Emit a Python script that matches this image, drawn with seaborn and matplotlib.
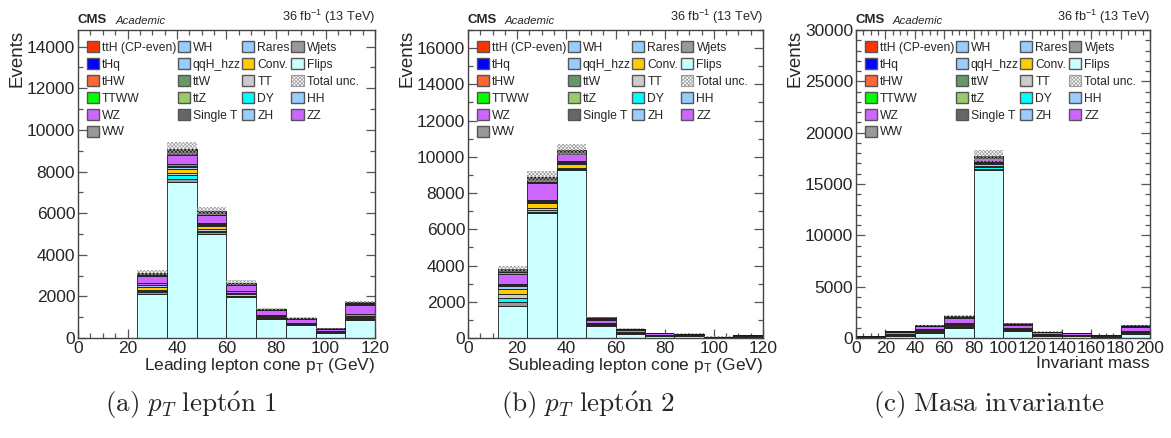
import numpy as np
import pandas as pd
import matplotlib
matplotlib.use("Agg")
import matplotlib.pyplot as plt
import seaborn as sns
from matplotlib.patches import Patch
from matplotlib.ticker import MultipleLocator

# processes, bottom of the stack first
stack_order = ["Flips", "Wjets", "DY", "TT", "Conv.", "Rares", "WH", "ZH", "HH",
               "qqH_hzz", "ZZ", "WZ", "WW", "Single T", "ttZ", "ttW", "TTWW",
               "tHW", "tHq", "ttH (CP-even)"]

proc_colors = {
    "ttH (CP-even)": "#ff3300", "tHq": "#0000ff", "tHW": "#ff6633", "TTWW": "#00ff00",
    "WZ": "#cc66ff", "WW": "#999999", "WH": "#99ccff", "qqH_hzz": "#99ccff",
    "ttW": "#669966", "ttZ": "#99cc66", "Single T": "#666666", "Rares": "#99ccff",
    "Conv.": "#ffcc00", "TT": "#cccccc", "DY": "#00ffff", "ZH": "#99ccff",
    "Wjets": "#999999", "Flips": "#ccffff", "HH": "#99ccff", "ZZ": "#cc66ff",
}

legend_order = ["ttH (CP-even)", "tHq", "tHW", "TTWW", "WZ", "WW",
                "WH", "qqH_hzz", "ttW", "ttZ", "Single T",
                "Rares", "Conv.", "TT", "DY", "ZH",
                "Wjets", "Flips", "Total unc.", "HH", "ZZ"]

# ---- leading lepton cone pT, 10 bins of 12 GeV ----
lead_edges = [0, 12, 24, 36, 48, 60, 72, 84, 96, 108, 120]
lead_small = [0, 0, 6, 12, 10, 4, 2, 1, 1, 4]
lead_yields = {
    "Flips":    [0, 0, 2110, 7480, 5000, 1950, 920, 620, 260, 850],
    "Wjets":    [0, 0, 80, 150, 80, 40, 30, 20, 10, 50],
    "DY":       [0, 0, 50, 200, 80, 20, 10, 5, 5, 15],
    "TT":       [0, 0, 80, 100, 80, 30, 20, 15, 10, 40],
    "Conv.":    [0, 0, 150, 200, 120, 80, 50, 30, 15, 60],
    "Rares":    [0, 0, 60, 100, 60, 40, 30, 20, 10, 50],
    "ZZ":       [0, 0, 80, 80, 80, 60, 40, 30, 15, 70],
    "WZ":       [0, 0, 350, 450, 350, 300, 220, 160, 100, 420],
    "WW":       [0, 0, 40, 50, 40, 40, 30, 20, 10, 40],
    "Single T": [0, 0, 50, 100, 60, 30, 20, 10, 5, 20],
    "ttZ":      [0, 0, 20, 40, 30, 20, 10, 5, 5, 40],
    "ttW":      [0, 0, 20, 40, 30, 20, 10, 5, 5, 40],
}
lead_unc = [0, 0, 120, 320, 210, 100, 55, 40, 25, 70]

# ---- subleading lepton cone pT ----
sub_edges = [0, 12, 24, 36, 48, 60, 72, 84, 96, 108, 120]
sub_small = [0, 6, 12, 12, 4, 2, 1, 1, 0, 1]
sub_yields = {
    "Flips":    [0, 1750, 6900, 9250, 650, 230, 120, 110, 40, 80],
    "Wjets":    [0, 250, 60, 40, 40, 25, 15, 10, 4, 8],
    "DY":       [0, 200, 100, 60, 10, 5, 3, 2, 1, 2],
    "TT":       [0, 250, 100, 60, 20, 10, 5, 5, 2, 4],
    "Conv.":    [0, 280, 270, 170, 20, 10, 5, 5, 2, 4],
    "Rares":    [0, 150, 60, 80, 20, 15, 10, 8, 3, 6],
    "ZZ":       [0, 100, 100, 80, 40, 25, 15, 12, 4, 10],
    "WZ":       [0, 550, 900, 350, 200, 140, 80, 60, 18, 40],
    "WW":       [0, 80, 60, 40, 50, 20, 10, 8, 3, 6],
    "Single T": [0, 100, 200, 100, 30, 10, 5, 4, 1, 3],
    "ttZ":      [0, 30, 20, 20, 10, 5, 5, 3, 1, 4],
    "ttW":      [0, 30, 20, 20, 10, 5, 5, 3, 1, 3],
}
sub_unc = [0, 130, 300, 350, 45, 25, 15, 12, 6, 10]

# ---- invariant mass, 10 bins of 20 ----
mass_edges = [0, 20, 40, 60, 80, 100, 120, 140, 160, 180, 200]
mass_small = [1, 4, 6, 10, 15, 8, 4, 3, 2, 6]
mass_yields = {
    "Flips":    [10, 150, 450, 1000, 16350, 700, 220, 200, 130, 420],
    "Wjets":    [20, 50, 60, 80, 100, 60, 30, 25, 15, 60],
    "DY":       [5, 15, 40, 40, 250, 20, 5, 5, 3, 10],
    "TT":       [10, 30, 60, 60, 80, 30, 15, 10, 5, 30],
    "Conv.":    [10, 40, 120, 120, 180, 30, 15, 10, 5, 30],
    "Rares":    [10, 30, 40, 60, 80, 40, 25, 20, 12, 40],
    "ZZ":       [15, 50, 60, 80, 100, 60, 30, 25, 15, 60],
    "WZ":       [40, 200, 280, 500, 300, 300, 180, 140, 80, 380],
    "WW":       [10, 30, 30, 60, 60, 50, 20, 20, 10, 50],
    "Single T": [10, 30, 20, 50, 60, 40, 15, 10, 5, 30],
    "ttZ":      [5, 10, 10, 20, 20, 10, 10, 10, 5, 40],
    "ttW":      [5, 10, 10, 20, 20, 10, 5, 5, 5, 30],
}
mass_unc = [10, 40, 60, 90, 550, 60, 30, 25, 15, 50]

x_labels = ["Leading lepton cone p$_\\mathrm{T}$ (GeV)",
            "Subleading lepton cone p$_\\mathrm{T}$ (GeV)",
            "Invariant mass"]
captions = [r"$\mathrm{(a)}\ p_T\ \mathrm{lept\acute{o}n\ 1}$",
            r"$\mathrm{(b)}\ p_T\ \mathrm{lept\acute{o}n\ 2}$",
            r"$\mathrm{(c)\ Masa\ invariante}$"]
y_tops = [14800, 17000, 30000]
y_majors = [2000, 2000, 5000]


sns.set_style("ticks")
plt.rcParams["font.family"] = ["Liberation Sans", "DejaVu Sans"]
plt.rcParams["mathtext.fontset"] = "custom"
plt.rcParams["mathtext.rm"] = "Liberation Sans"
plt.rcParams["mathtext.it"] = "Liberation Sans:italic"
plt.rcParams["hatch.color"] = "#999999"
plt.rcParams["hatch.linewidth"] = 0.5

UNC_HATCH = "xxxxxxxxx"


def long_table(edges, yields, small):
    edges = np.asarray(edges, dtype=float)
    centers = 0.5 * (edges[:-1] + edges[1:])
    rows = []
    for proc in stack_order:
        vals = yields.get(proc, small)
        if proc == "ttH (CP-even)":
            vals = [2 * v for v in small]
        for c, v in zip(centers, vals):
            rows.append((c, proc, v))
    return pd.DataFrame(rows, columns=["x", "process", "w"])


def draw_panel(ax, edges, yields, small, unc, xlabel, ytop, ymajor):
    df = long_table(edges, yields, small)
    # seaborn puts the first hue level on top of the stack
    sns.histplot(data=df, x="x", weights="w", hue="process", hue_order=stack_order[::-1],
                 multiple="stack", bins=edges, palette=proc_colors, alpha=1,
                 edgecolor="#1a1a1a", linewidth=0.6, legend=False, ax=ax)

    # total uncertainty band
    edges = np.asarray(edges, dtype=float)
    centers = 0.5 * (edges[:-1] + edges[1:])
    total = df.groupby("x")["w"].sum().reindex(centers).values
    unc = np.asarray(unc, dtype=float)
    ax.bar(centers, 2 * unc, width=np.diff(edges), bottom=total - unc,
           facecolor="none", edgecolor="#999999", hatch=UNC_HATCH, linewidth=0)

    ax.set_xlim(edges[0], edges[-1])
    ax.set_ylim(0, ytop)
    ax.xaxis.set_major_locator(MultipleLocator(20))
    ax.xaxis.set_minor_locator(MultipleLocator(5))
    ax.yaxis.set_major_locator(MultipleLocator(ymajor))
    ax.yaxis.set_minor_locator(MultipleLocator(1000))
    ax.tick_params(which="both", direction="in", top=True, right=True,
                   labelsize=12.5, color="#555555", width=0.9)
    ax.tick_params(which="major", length=6.5, pad=2)
    ax.tick_params(which="minor", length=3.3)
    for s in ax.spines.values():
        s.set_color("#444444")
        s.set_linewidth(1.0)

    ax.set_xlabel(xlabel, loc="right", fontsize=12.5, labelpad=0)
    ax.set_ylabel("Events", loc="top", fontsize=13.5, labelpad=1)

    ax.text(0.0, 1.014, "CMS", transform=ax.transAxes, fontsize=9.5,
            fontweight="bold", ha="left", va="bottom")
    ax.text(0.125, 1.014, "Academic", transform=ax.transAxes, fontsize=8.2,
            style="italic", ha="left", va="bottom")
    ax.text(1.0, 1.014, "36 fb$^{-1}$ (13 TeV)", transform=ax.transAxes,
            fontsize=9.2, ha="right", va="bottom")

    handles = []
    for name in legend_order:
        if name == "Total unc.":
            handles.append(Patch(facecolor="white", edgecolor="#999999",
                                 hatch=UNC_HATCH, linewidth=0.8, label=name))
        else:
            handles.append(Patch(facecolor=proc_colors[name], edgecolor="#555555",
                                 linewidth=1.0, label=name))
    ax.legend(handles=handles, ncol=4, loc="upper left", bbox_to_anchor=(0.03, 0.963),
              frameon=False, fontsize=8.7, handlelength=1.0, handleheight=1.0,
              handletextpad=0.25, columnspacing=0.12, labelspacing=0.36,
              borderaxespad=0, borderpad=0)


fig = plt.figure(figsize=(11.71, 4.38), dpi=100)
positions = [(78, 297), (468, 295), (856, 294)]
axes = []
for left, width in positions:
    axes.append(fig.add_axes([left / 1171, 100 / 438, width / 1171, 308 / 438]))

panels = [
    (lead_edges, lead_yields, lead_small, lead_unc),
    (sub_edges, sub_yields, sub_small, sub_unc),
    (mass_edges, mass_yields, mass_small, mass_unc),
]
for ax, (edges, yields, small, unc), xl, yt, ym in zip(axes, panels, x_labels, y_tops, y_majors):
    draw_panel(ax, edges, yields, small, unc, xl, yt, ym)

for cx, cap in zip([191, 588, 989], captions):
    fig.text(cx / 1171, 33 / 438, cap, ha="center", va="center", fontsize=19.5,
             math_fontfamily="cm")

fig.savefig("out.png", dpi=100, facecolor="white")
